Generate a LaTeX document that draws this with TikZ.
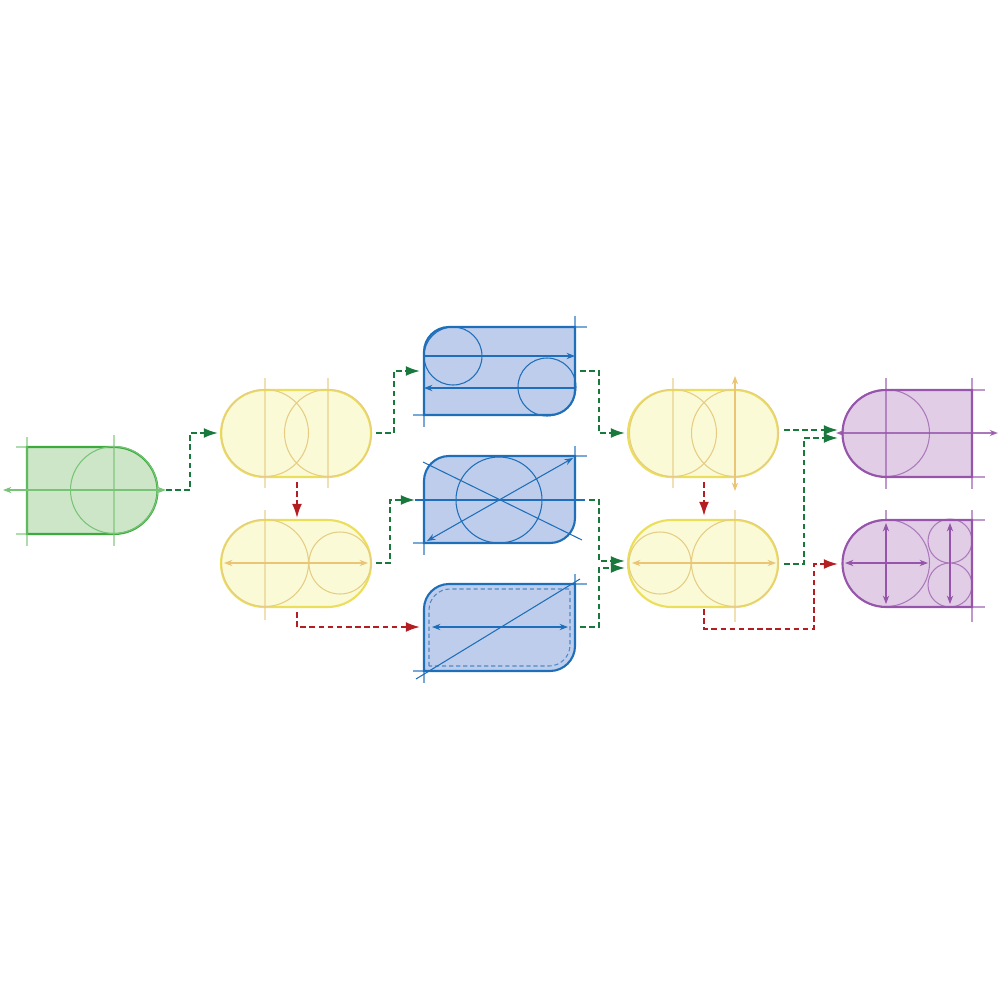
\documentclass[tikz,border=0pt]{standalone}
\usetikzlibrary{arrows.meta}
\definecolor{gS}{RGB}{60,170,60}\definecolor{gF}{RGB}{205,230,200}
\definecolor{yS}{RGB}{235,222,90}\definecolor{yF}{RGB}{250,250,215}\definecolor{yG}{RGB}{230,205,130}
\definecolor{bS}{RGB}{30,110,185}\definecolor{bF}{RGB}{190,205,235}
\definecolor{pS}{RGB}{150,85,170}\definecolor{pF}{RGB}{225,205,230}
\definecolor{cG}{RGB}{25,120,60}\definecolor{cR}{RGB}{180,30,35}
\tikzset{
 conn/.style={line width=0.55pt,dash pattern=on 1.6pt off 1pt,-{Latex[length=4pt,width=2.8pt]}},
 cg/.style={conn,cG}, cr/.style={conn,cR},
 outl/.style={line width=0.6pt},
 guide/.style={line width=0.3pt,opacity=0.6},
 thin2/.style={line width=0.3pt},
 tip/.style={-{Stealth[length=2.4pt,width=1.8pt]}},
 tips/.style={{Stealth[length=2.4pt,width=1.8pt]}-{Stealth[length=2.4pt,width=1.8pt]}},
}
\begin{document}
\begin{tikzpicture}[x=0.1mm,y=-0.1mm]
\useasboundingbox (0,0) rectangle (1000,1000);
% green
\draw[gS,fill=gF,outl] (27,447) -- (114,447) arc[start angle=90,end angle=-90,radius=4.35mm] -- (27,534) -- cycle;
\begin{scope}[gS!70,thin2]
\draw (114,490) circle[radius=4.35mm];
\draw[guide] (27,437)--(27,546) (114,435)--(114,546) (16,447)--(27,447) (16,534)--(27,534);
\draw[tips] (3,490)--(166,490);
\end{scope}
% yellow 1
\draw[yS,fill=yF,outl,rounded corners=4.35mm] (221,390) rectangle (371,477);
\draw[yG,thin2] (265,433) circle[radius=4.35mm] (328,433) circle[radius=4.35mm];
\draw[yG,guide] (265,378)--(265,488) (328,378)--(328,488);
% yellow 2
\draw[yS,fill=yF,outl,rounded corners=4.35mm] (221,520) rectangle (371,607);
\draw[yG,thin2] (265,563) circle[radius=4.35mm] (340,563) circle[radius=3.1mm];
\draw[yG,guide] (265,510)--(265,620);
\draw[yG!90!orange,thin2,tips] (224,563)--(368,563);
% blue 1
\draw[bS,fill=bF,outl] (424,415) -- (424,352) arc[start angle=180,end angle=90,radius=2.5mm] -- (575,327) -- (575,390) arc[start angle=0,end angle=-90,radius=2.5mm] -- cycle;
\begin{scope}[bS,thin2]
\draw (453,356) circle[radius=2.9mm] (547,387) circle[radius=2.9mm];
\draw[tip] (424,356)--(575,356);
\draw[tip] (575,388)--(424,388);
\draw[guide] (575,316)--(575,327) (575,327)--(587,327) (424,415)--(424,427) (413,415)--(424,415);
\end{scope}
% blue 2
\draw[bS,fill=bF,outl] (424,543) -- (424,481) arc[start angle=180,end angle=90,radius=2.5mm] -- (575,456) -- (575,518) arc[start angle=0,end angle=-90,radius=2.5mm] -- cycle;
\begin{scope}[bS,thin2]
\draw (499,500) circle[radius=4.3mm];
\draw (423,462)--(582,540);
\draw[tips] (427,541)--(573,458);
\draw (415,500)--(585,500);
\draw[guide] (575,446)--(575,456) (575,456)--(587,456) (424,543)--(424,555) (413,543)--(424,543);
\end{scope}
% blue 3
\draw[bS,fill=bF,outl] (424,671) -- (424,609) arc[start angle=180,end angle=90,radius=2.5mm] -- (575,584) -- (575,646) arc[start angle=0,end angle=-90,radius=2.5mm] -- cycle;
\begin{scope}[bS,thin2]
\draw[dash pattern=on 1.2pt off 0.8pt,opacity=0.7] (429,666) -- (429,610) arc[start angle=180,end angle=90,radius=2.1mm] -- (570,589) -- (570,645) arc[start angle=0,end angle=-90,radius=2.1mm] -- cycle;
\draw (416,679)--(580,579);
\draw[tips] (432,627)--(568,627);
\draw[guide] (575,574)--(575,584) (575,584)--(587,584) (424,671)--(424,683) (413,671)--(424,671);
\end{scope}
% yellow 3
\draw[yS,fill=yF,outl,rounded corners=4.35mm] (628,390) rectangle (778,477);
\draw[yG,thin2] (673,433) circle[radius=4.35mm] (735,433) circle[radius=4.35mm];
\draw[yG,guide] (673,378)--(673,488);
\draw[yG!90!orange,thin2,tips] (735,376)--(735,491);
% yellow 4
\draw[yS,fill=yF,outl,rounded corners=4.35mm] (628,520) rectangle (778,607);
\draw[yG,thin2] (660,563) circle[radius=3.1mm] (735,563) circle[radius=4.35mm];
\draw[yG,guide] (735,510)--(735,622);
\draw[yG!90!orange,thin2,tips] (632,563)--(776,563);
% purple 1
\draw[pS,fill=pF,outl] (972,477) -- (886,477) arc[start angle=-90,end angle=-270,radius=4.35mm] -- (972,390) -- cycle;
\begin{scope}[pS,thin2]
\draw[opacity=0.7] (886,433) circle[radius=4.35mm];
\draw[guide] (886,378)--(886,489) (972,378)--(972,489) (972,390)--(985,390) (972,477)--(985,477);
\draw[tips,opacity=0.8] (836,433)--(998,433);
\end{scope}
% purple 2
\draw[pS,fill=pF,outl] (972,607) -- (886,607) arc[start angle=-90,end angle=-270,radius=4.35mm] -- (972,520) -- cycle;
\begin{scope}[pS,thin2]
\draw[opacity=0.7] (886,563) circle[radius=4.35mm] (950,541) circle[radius=2.2mm] (950,585) circle[radius=2.2mm];
\draw[guide] (886,510)--(886,520) (972,510)--(972,622) (972,520)--(985,520) (972,607)--(985,607);
\draw[tips] (886,523)--(886,604);
\draw[tips] (950,523)--(950,604);
\draw[tips] (845,563)--(928,563);
\end{scope}
% connectors
\coordinate (g1) at (166,490); \coordinate (y1l) at (218,433);
\draw[cg] (g1) -- (190,490) |- (y1l);
\draw[cr] (297,482) -- (297,518);
\draw[cg] (376,433) -- (394,433) |- (420,371);
\draw[cg] (376,563) -- (390,563) |- (415,500);
\draw[cr] (297,612) |- (420,627);
\draw[cg] (580,371) -- (599,371) |- (625,433);
\draw[cg] (589,500) -- (599,500) |- (625,561);
\draw[cg] (580,627) -- (599,627) |- (625,568);
\draw[cr] (704,482) -- (704,516);
\draw[cg] (784,430) -- (838,430);
\draw[cg] (784,564) -- (804,564) |- (838,438);
\draw[cr] (704,609) -- (704,629) -- (814,629) |- (838,564);
\end{tikzpicture}
\end{document}
